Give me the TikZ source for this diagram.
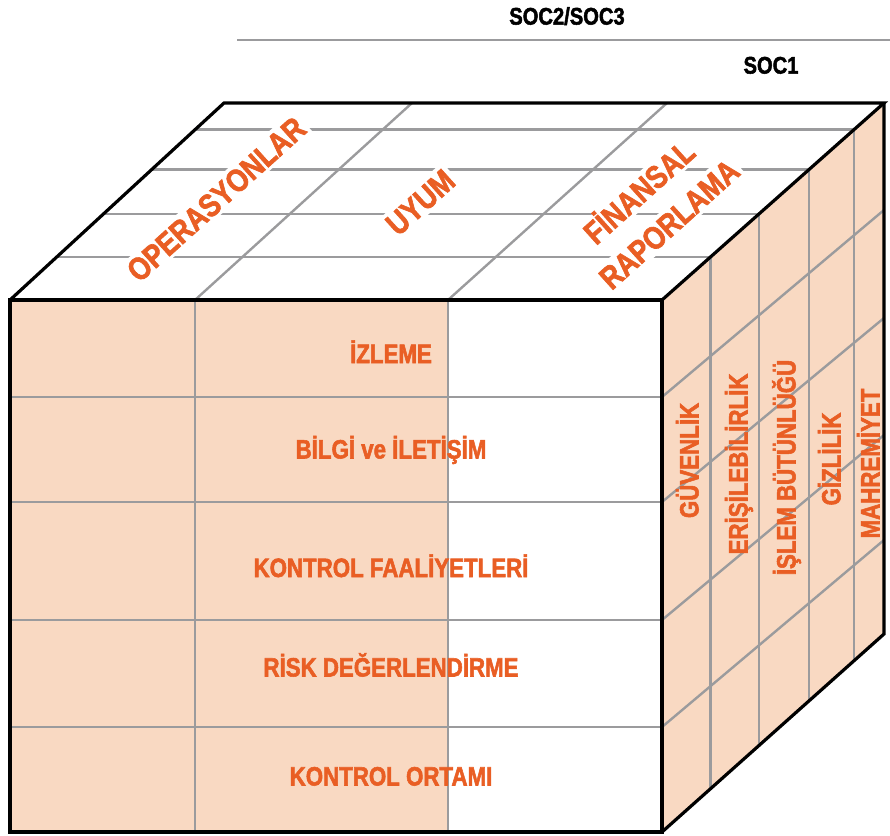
\documentclass[tikz,border=0pt]{standalone}
\usepackage{fontspec}
\usepackage{tikz}
\newfontfamily\cubefont[FakeStretch=0.84,FakeBold=2]{Liberation Sans}
\definecolor{socOrange}{RGB}{233,94,36}
\definecolor{socPeach}{RGB}{249,217,194}
\definecolor{socGrey}{RGB}{155,155,157}

\begin{document}
\begin{tikzpicture}[x=0.75pt,y=0.75pt,yscale=-1,xscale=1,
  gridline/.style={draw=socGrey,line width=1.8pt},
  edgeline/.style={draw=black,line width=2.4pt,line join=miter},
  frontlabel/.style={text=socOrange,font=\cubefont\bfseries\fontsize{19.9}{22}\selectfont,inner sep=0pt,text height=14.25pt,text depth=0pt},
  sidelabel/.style={frontlabel,rotate=90},
  toplabel/.style={text=socOrange,font=\cubefont\bfseries\fontsize{24}{27}\selectfont,fill=white,inner sep=2.5pt,text height=17.2pt,text depth=0pt,rotate=42},
  headlabel/.style={font=\cubefont\bfseries\fontsize{18}{20}\selectfont,inner sep=0pt,text height=12.9pt,text depth=0pt}]
\useasboundingbox (0,0) rectangle (890,836);

%Straight Lines
\draw [socGrey,line width=1.6pt]   (237,40) -- (890,40) ;

%Shape: Rectangle
\fill [socPeach]   (10,300) rectangle (448,832) ;
%Shape: Polygon
\fill [socPeach]   (662,300) -- (884,103) -- (884,634) -- (662,832) -- cycle ;

%Straight Lines (front)
\draw [gridline]   (195,300) -- (195,832) ;
\draw [gridline]   (448,300) -- (448,832) ;
\draw [gridline]   (10,397) -- (662,397) ;
\draw [gridline]   (10,502) -- (662,502) ;
\draw [gridline]   (10,620) -- (662,620) ;
\draw [gridline]   (10,727) -- (662,727) ;

%Straight Lines (top)
\draw [gridline]   (195,300) -- (412,103) ;
\draw [gridline]   (448,300) -- (667,103) ;
\draw [gridline]   (56.7,257) -- (710.5,257) ;
\draw [gridline]   (103.4,214) -- (758.9,214) ;
\draw [gridline]   (151.8,169.5) -- (809.1,169.5) ;
\draw [gridline]   (195.2,129.5) -- (854.1,129.5) ;

%Straight Lines (right)
\draw [gridline]   (710.5,257) -- (710.5,788.7) ;
\draw [gridline]   (758.9,214) -- (758.9,745.6) ;
\draw [gridline]   (809.1,169.5) -- (809.1,700.8) ;
\draw [gridline]   (854.1,129.5) -- (854.1,660.7) ;
\draw [gridline]   (662,397) -- (884,210) ;
\draw [gridline]   (662,502) -- (884,318) ;
\draw [gridline]   (662,620) -- (884,435) ;
\draw [gridline]   (662,727) -- (884,540) ;

%Shape: Cube outline
\draw [edgeline]   (10,300) rectangle (662,832) ;
\draw [edgeline]   (10,300) -- (224,103) -- (884,103) -- (662,300) ;
\draw [edgeline]   (884,103) -- (884,634) -- (662,832) ;

% Text Node
\draw (567,16) node (soc23) [headlabel]  {SOC2/SOC3};
% Text Node
\draw (771,65) node (soc1) [headlabel]  {SOC1};

% Text Node
\draw (216,199) node (operasyonlar) [toplabel]  {OPERASYONLAR};
% Text Node
\draw (420,202) node (uyum) [toplabel]  {UYUM};
% Text Node
\draw (639,192) node (finansal) [toplabel]  {FİNANSAL};
% Text Node
\draw (669,224) node (raporlama) [toplabel]  {RAPORLAMA};

% Text Node
\draw (391,353.5) node (izleme) [frontlabel]  {İZLEME};
% Text Node
\draw (391,449) node (bilgi) [frontlabel]  {BİLGİ ve İLETİŞİM};
% Text Node
\draw (391,567.5) node (faaliyet) [frontlabel]  {KONTROL FAALİYETLERİ};
% Text Node
\draw (391,667) node (risk) [frontlabel]  {RİSK DEĞERLENDİRME};
% Text Node
\draw (391,776) node (ortam) [frontlabel]  {KONTROL ORTAMI};

% Text Node
\draw (689,460.5) node (guvenlik) [sidelabel]  {GÜVENLİK};
% Text Node
\draw (738,464) node (erisim) [sidelabel]  {ERİŞİLEBİLİRLİK};
% Text Node
\draw (786,467.5) node (islem) [sidelabel]  {İŞLEM BÜTÜNLÜĞÜ};
% Text Node
\draw (831,459) node (gizlilik) [sidelabel]  {GİZLİLİK};
% Text Node
\draw (870,463.5) node (mahremiyet) [sidelabel]  {MAHREMİYET};
\end{tikzpicture}
\end{document}
